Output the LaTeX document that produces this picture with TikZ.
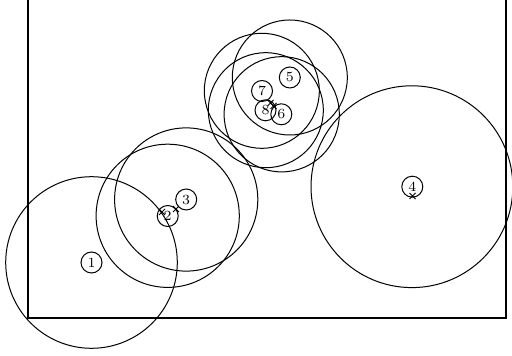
\documentclass[tikz,border=0pt]{standalone}
\begin{document}
\begin{tikzpicture}[x=0.5pt,y=-0.5pt,
  big/.style={draw,line width=0.5pt},
  numnode/.style={draw,circle,line width=0.5pt,minimum size=10.5pt,inner sep=0pt,font=\scriptsize},
  xmark/.style={line width=0.5pt}]
\useasboundingbox (0,0) rectangle (512,356);
\draw[line width=0.7pt] (28,-0.8) rectangle (506,318);
% big circles
\draw[big] (91.5,262.5) circle (85.8);
\draw[big] (167.7,215.8) circle (71.6);
\draw[big] (186.2,199.5) circle (71.6);
\draw[big] (411.9,186.7) circle (100.9);
\draw[big] (289.8,77.5) circle (57.5);
\draw[big] (261.8,90.8) circle (57.5);
\draw[big] (265.8,110.2) circle (57.5);
\draw[big] (281.7,114.3) circle (57.6);
% numbered nodes
\node[numnode] (n1) at (91.5,262.5) {1};
\node[numnode] (n2) at (167.7,216) {2};
\node[numnode] (n3) at (186.2,199.5) {3};
\node[numnode] (n4) at (412.3,186.7) {4};
\node[numnode] (n5) at (289.8,77.5) {5};
\node[numnode] (n7) at (262,91) {7};
\node[numnode] (n8) at (265.5,110.3) {8};
\node[numnode] (n6) at (281.3,114.3) {6};
% cross marks
\foreach \p in {(162,212),(176,209),(270.5,103),(273.5,106),(412.5,196)}{
  \draw[xmark] \p ++(-3,-3) -- ++(6,6) \p ++(-3,3) -- ++(6,-6);
}
\end{tikzpicture}
\end{document}
